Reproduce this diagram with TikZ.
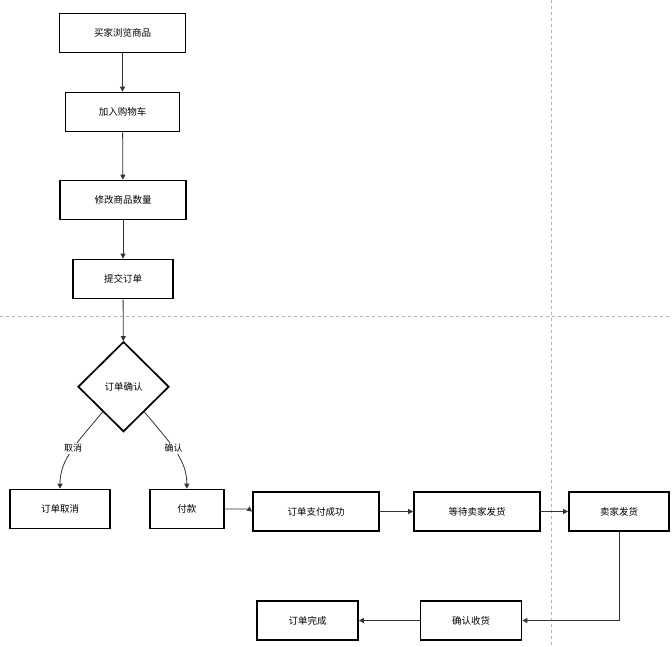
\documentclass[tikz,border=0pt]{standalone}
\usepackage{fontspec}
\setmainfont{Noto Sans CJK SC}
\usetikzlibrary{arrows.meta,shapes.geometric,calc}
\begin{document}
\begin{tikzpicture}[x=1pt,y=-1pt,
  box/.style={draw=black,line width=1.7pt,minimum height=39pt,inner sep=0pt,font=\fontsize{9.5}{11}\selectfont},
  dec/.style={draw=black,line width=1.7pt,diamond,aspect=1,minimum width=91pt,minimum height=90pt,inner sep=0pt,font=\fontsize{9.5}{11}\selectfont},
  conn/.style={draw=black!80,line width=0.8pt,-{Triangle[width=5pt,length=5pt]}},
  lbl/.style={fill=white,inner sep=1pt,font=\fontsize{9}{10}\selectfont},
  guide/.style={draw=black!30,dashed,line width=0.6pt}]
\useasboundingbox (0,0) rectangle (672,646);
\draw[guide] (0,316) -- (672,316);
\draw[guide] (551,0) -- (551,646);
\node[box,minimum width=126pt] (a) at (122.5,33) {买家浏览商品};
\node[box,minimum width=114pt] (b) at (122.5,112) {加入购物车};
\node[box,minimum width=126pt] (c) at (123,200) {修改商品数量};
\node[box,minimum width=100pt] (s) at (123,279) {提交订单};
\node[dec] (d) at (123.5,386.7) {订单确认};
\node[box,minimum width=100pt] (q) at (60,509) {订单取消};
\node[box,minimum width=74pt] (p) at (186.8,509) {付款};
\node[box,minimum width=126pt] (ok) at (316,511.5) {订单支付成功};
\node[box,minimum width=126pt] (w) at (477,511.5) {等待卖家发货};
\node[box,minimum width=100pt] (sh) at (619,511.5) {卖家发货};
\node[box,minimum width=101pt] (r) at (471,620.5) {确认收货};
\node[box,minimum width=101pt] (f) at (307.5,620.5) {订单完成};
\draw[conn] (a) -- (b);
\draw[conn] (b) -- (c);
\draw[conn] (c) -- (s);
\draw[conn] (s) -- (d);
\coordinate (dl) at ($(d.west)!0.55!(d.south)$);
\coordinate (dr) at ($(d.east)!0.55!(d.south)$);
\draw[conn] (dl) .. controls (75,445) and (60,460) .. (q.north) node[lbl,pos=0.45] {取消};
\draw[conn] (dr) .. controls (172,445) and (186.8,460) .. (p.north) node[lbl,pos=0.45] {确认};
\draw[conn] (p.east) -- ++(24,0) -- (ok.west);
\draw[conn] (ok) -- (w);
\draw[conn] (w) -- (sh);
\draw[conn] (sh.south) |- (r.east);
\draw[conn] (r) -- (f);
\end{tikzpicture}
\end{document}
